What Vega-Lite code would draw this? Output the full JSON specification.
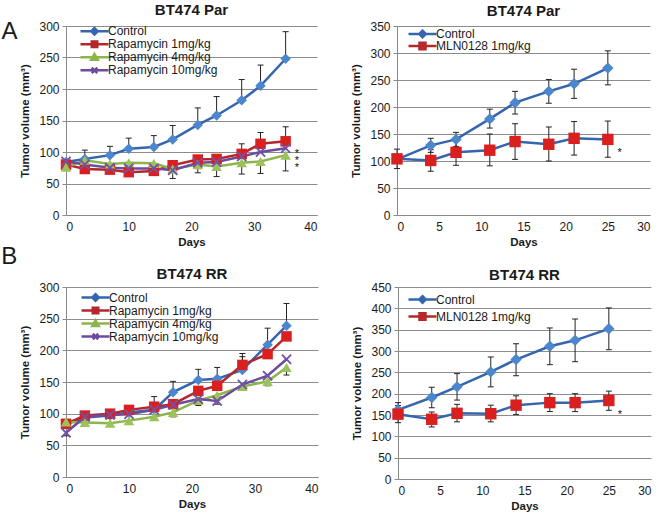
{
  "$schema": "https://vega.github.io/schema/vega-lite/v6.json",
  "background": "white",
  "padding": {"left": 1, "top": 3, "right": 2, "bottom": 2},
  "spacing": -4,
  "config": {
    "font": "Liberation Sans",
    "view": {"stroke": null},
    "axis": {"labelFont": "Liberation Sans", "labelFontSize": 12, "labelColor": "#1a1a1a", "titleFont": "Liberation Sans", "titleFontSize": 11.5, "titleFontWeight": "bold", "titleColor": "#1a1a1a", "domainColor": "#8a8a8a", "tickColor": "#8a8a8a", "gridColor": "#8c8c8c", "gridOpacity": 1},
    "axisX": {"grid": false, "ticks": false, "labelPadding": 6, "titlePadding": 4.5},
    "axisY": {"grid": true, "tickSize": 4, "labelPadding": 3, "titlePadding": 8},
    "title": {"font": "Liberation Sans", "fontSize": 15, "fontWeight": "bold", "color": "#1a1a1a", "frame": "group"},
    "legend": {"labelFont": "Liberation Sans", "labelFontSize": 12, "labelColor": "#1a1a1a", "symbolStrokeWidth": 2.5, "symbolSize": 100, "labelOffset": 16, "padding": 0, "rowPadding": 0}
  },
  "datasets": {
    "aL": [
      {"s": "Control", "day": 0, "v": 84, "lo": 84, "hi": 88},
      {"s": "Control", "day": 3, "v": 89, "lo": 89, "hi": 103},
      {"s": "Control", "day": 7, "v": 95, "lo": 95, "hi": 109},
      {"s": "Control", "day": 10, "v": 105, "lo": 105, "hi": 122},
      {"s": "Control", "day": 14, "v": 108, "lo": 108, "hi": 126},
      {"s": "Control", "day": 17, "v": 120, "lo": 120, "hi": 142},
      {"s": "Control", "day": 21, "v": 143, "lo": 143, "hi": 170},
      {"s": "Control", "day": 24, "v": 158, "lo": 158, "hi": 188},
      {"s": "Control", "day": 28, "v": 182, "lo": 182, "hi": 215},
      {"s": "Control", "day": 31, "v": 205, "lo": 205, "hi": 238},
      {"s": "Control", "day": 35, "v": 248, "lo": 248, "hi": 291},
      {"s": "Rapamycin 1mg/kg", "day": 0, "v": 80, "lo": 80, "hi": 80},
      {"s": "Rapamycin 1mg/kg", "day": 3, "v": 73, "lo": 73, "hi": 73},
      {"s": "Rapamycin 1mg/kg", "day": 7, "v": 72, "lo": 72, "hi": 72},
      {"s": "Rapamycin 1mg/kg", "day": 10, "v": 68, "lo": 68, "hi": 68},
      {"s": "Rapamycin 1mg/kg", "day": 14, "v": 70, "lo": 70, "hi": 70},
      {"s": "Rapamycin 1mg/kg", "day": 17, "v": 79, "lo": 79, "hi": 82},
      {"s": "Rapamycin 1mg/kg", "day": 21, "v": 88, "lo": 88, "hi": 93},
      {"s": "Rapamycin 1mg/kg", "day": 24, "v": 89, "lo": 89, "hi": 92},
      {"s": "Rapamycin 1mg/kg", "day": 28, "v": 97, "lo": 97, "hi": 113},
      {"s": "Rapamycin 1mg/kg", "day": 31, "v": 113, "lo": 113, "hi": 131},
      {"s": "Rapamycin 1mg/kg", "day": 35, "v": 117, "lo": 117, "hi": 140},
      {"s": "Rapamycin 4mg/kg", "day": 0, "v": 76, "lo": 72, "hi": 76},
      {"s": "Rapamycin 4mg/kg", "day": 3, "v": 87, "lo": 87, "hi": 87},
      {"s": "Rapamycin 4mg/kg", "day": 7, "v": 81, "lo": 81, "hi": 81},
      {"s": "Rapamycin 4mg/kg", "day": 10, "v": 83, "lo": 83, "hi": 83},
      {"s": "Rapamycin 4mg/kg", "day": 14, "v": 82, "lo": 82, "hi": 82},
      {"s": "Rapamycin 4mg/kg", "day": 17, "v": 73, "lo": 58, "hi": 73},
      {"s": "Rapamycin 4mg/kg", "day": 21, "v": 80, "lo": 67, "hi": 80},
      {"s": "Rapamycin 4mg/kg", "day": 24, "v": 77, "lo": 61, "hi": 77},
      {"s": "Rapamycin 4mg/kg", "day": 28, "v": 83, "lo": 65, "hi": 83},
      {"s": "Rapamycin 4mg/kg", "day": 31, "v": 85, "lo": 66, "hi": 85},
      {"s": "Rapamycin 4mg/kg", "day": 35, "v": 95, "lo": 70, "hi": 95},
      {"s": "Rapamycin 10mg/kg", "day": 0, "v": 85, "lo": 85, "hi": 85},
      {"s": "Rapamycin 10mg/kg", "day": 3, "v": 80, "lo": 80, "hi": 80},
      {"s": "Rapamycin 10mg/kg", "day": 7, "v": 75, "lo": 75, "hi": 75},
      {"s": "Rapamycin 10mg/kg", "day": 10, "v": 74, "lo": 74, "hi": 74},
      {"s": "Rapamycin 10mg/kg", "day": 14, "v": 74, "lo": 74, "hi": 74},
      {"s": "Rapamycin 10mg/kg", "day": 17, "v": 71, "lo": 71, "hi": 71},
      {"s": "Rapamycin 10mg/kg", "day": 21, "v": 83, "lo": 83, "hi": 83},
      {"s": "Rapamycin 10mg/kg", "day": 24, "v": 84, "lo": 84, "hi": 84},
      {"s": "Rapamycin 10mg/kg", "day": 28, "v": 93, "lo": 93, "hi": 93},
      {"s": "Rapamycin 10mg/kg", "day": 31, "v": 100, "lo": 100, "hi": 100},
      {"s": "Rapamycin 10mg/kg", "day": 35, "v": 106, "lo": 106, "hi": 106}
    ],
    "aR": [
      {"s": "Control", "day": 0, "v": 103, "lo": 103, "hi": 103},
      {"s": "Control", "day": 4, "v": 129, "lo": 116, "hi": 142},
      {"s": "Control", "day": 7, "v": 140, "lo": 127, "hi": 153},
      {"s": "Control", "day": 11, "v": 178, "lo": 161, "hi": 196},
      {"s": "Control", "day": 14, "v": 208, "lo": 187, "hi": 229},
      {"s": "Control", "day": 18, "v": 229, "lo": 207, "hi": 251},
      {"s": "Control", "day": 21, "v": 243, "lo": 216, "hi": 270},
      {"s": "Control", "day": 25, "v": 272, "lo": 241, "hi": 304},
      {"s": "MLN0128 1mg/kg", "day": 0, "v": 104, "lo": 86, "hi": 122},
      {"s": "MLN0128 1mg/kg", "day": 4, "v": 101, "lo": 81, "hi": 121},
      {"s": "MLN0128 1mg/kg", "day": 7, "v": 116, "lo": 92, "hi": 140},
      {"s": "MLN0128 1mg/kg", "day": 11, "v": 120, "lo": 91, "hi": 150},
      {"s": "MLN0128 1mg/kg", "day": 14, "v": 136, "lo": 103, "hi": 169},
      {"s": "MLN0128 1mg/kg", "day": 18, "v": 131, "lo": 100, "hi": 163},
      {"s": "MLN0128 1mg/kg", "day": 21, "v": 142, "lo": 111, "hi": 173},
      {"s": "MLN0128 1mg/kg", "day": 25, "v": 140, "lo": 107, "hi": 174}
    ],
    "bL": [
      {"s": "Control", "day": 0, "v": 83, "lo": 83, "hi": 83},
      {"s": "Control", "day": 3, "v": 94, "lo": 94, "hi": 94},
      {"s": "Control", "day": 7, "v": 97, "lo": 97, "hi": 97},
      {"s": "Control", "day": 10, "v": 102, "lo": 102, "hi": 102},
      {"s": "Control", "day": 14, "v": 106, "lo": 106, "hi": 127},
      {"s": "Control", "day": 17, "v": 134, "lo": 134, "hi": 151},
      {"s": "Control", "day": 21, "v": 153, "lo": 153, "hi": 170},
      {"s": "Control", "day": 24, "v": 155, "lo": 155, "hi": 173},
      {"s": "Control", "day": 28, "v": 169, "lo": 169, "hi": 195},
      {"s": "Control", "day": 32, "v": 209, "lo": 209, "hi": 235},
      {"s": "Control", "day": 35, "v": 239, "lo": 239, "hi": 274},
      {"s": "Rapamycin 1mg/kg", "day": 0, "v": 84, "lo": 84, "hi": 84},
      {"s": "Rapamycin 1mg/kg", "day": 3, "v": 97, "lo": 97, "hi": 97},
      {"s": "Rapamycin 1mg/kg", "day": 7, "v": 100, "lo": 100, "hi": 100},
      {"s": "Rapamycin 1mg/kg", "day": 10, "v": 106, "lo": 106, "hi": 106},
      {"s": "Rapamycin 1mg/kg", "day": 14, "v": 111, "lo": 111, "hi": 111},
      {"s": "Rapamycin 1mg/kg", "day": 17, "v": 115, "lo": 115, "hi": 115},
      {"s": "Rapamycin 1mg/kg", "day": 21, "v": 136, "lo": 136, "hi": 136},
      {"s": "Rapamycin 1mg/kg", "day": 24, "v": 144, "lo": 144, "hi": 144},
      {"s": "Rapamycin 1mg/kg", "day": 28, "v": 177, "lo": 177, "hi": 190},
      {"s": "Rapamycin 1mg/kg", "day": 32, "v": 194, "lo": 194, "hi": 194},
      {"s": "Rapamycin 1mg/kg", "day": 35, "v": 222, "lo": 222, "hi": 222},
      {"s": "Rapamycin 4mg/kg", "day": 0, "v": 87, "lo": 87, "hi": 87},
      {"s": "Rapamycin 4mg/kg", "day": 3, "v": 86, "lo": 86, "hi": 86},
      {"s": "Rapamycin 4mg/kg", "day": 7, "v": 85, "lo": 85, "hi": 85},
      {"s": "Rapamycin 4mg/kg", "day": 10, "v": 89, "lo": 89, "hi": 89},
      {"s": "Rapamycin 4mg/kg", "day": 14, "v": 95, "lo": 90, "hi": 95},
      {"s": "Rapamycin 4mg/kg", "day": 17, "v": 102, "lo": 95, "hi": 102},
      {"s": "Rapamycin 4mg/kg", "day": 21, "v": 121, "lo": 113, "hi": 121},
      {"s": "Rapamycin 4mg/kg", "day": 24, "v": 129, "lo": 129, "hi": 129},
      {"s": "Rapamycin 4mg/kg", "day": 28, "v": 143, "lo": 139, "hi": 143},
      {"s": "Rapamycin 4mg/kg", "day": 32, "v": 151, "lo": 144, "hi": 151},
      {"s": "Rapamycin 4mg/kg", "day": 35, "v": 173, "lo": 161, "hi": 173},
      {"s": "Rapamycin 10mg/kg", "day": 0, "v": 70, "lo": 65, "hi": 70},
      {"s": "Rapamycin 10mg/kg", "day": 3, "v": 95, "lo": 95, "hi": 95},
      {"s": "Rapamycin 10mg/kg", "day": 7, "v": 98, "lo": 98, "hi": 98},
      {"s": "Rapamycin 10mg/kg", "day": 10, "v": 99, "lo": 99, "hi": 99},
      {"s": "Rapamycin 10mg/kg", "day": 14, "v": 106, "lo": 106, "hi": 106},
      {"s": "Rapamycin 10mg/kg", "day": 17, "v": 114, "lo": 114, "hi": 114},
      {"s": "Rapamycin 10mg/kg", "day": 21, "v": 123, "lo": 115, "hi": 123},
      {"s": "Rapamycin 10mg/kg", "day": 24, "v": 120, "lo": 115, "hi": 120},
      {"s": "Rapamycin 10mg/kg", "day": 28, "v": 146, "lo": 146, "hi": 146},
      {"s": "Rapamycin 10mg/kg", "day": 32, "v": 160, "lo": 160, "hi": 160},
      {"s": "Rapamycin 10mg/kg", "day": 35, "v": 186, "lo": 186, "hi": 186}
    ],
    "bR": [
      {"s": "Control", "day": 0, "v": 162, "lo": 162, "hi": 179},
      {"s": "Control", "day": 4, "v": 191, "lo": 167, "hi": 215},
      {"s": "Control", "day": 7, "v": 216, "lo": 185, "hi": 247},
      {"s": "Control", "day": 11, "v": 251, "lo": 216, "hi": 286},
      {"s": "Control", "day": 14, "v": 280, "lo": 242, "hi": 317},
      {"s": "Control", "day": 18, "v": 311, "lo": 268, "hi": 354},
      {"s": "Control", "day": 21, "v": 325, "lo": 275, "hi": 375},
      {"s": "Control", "day": 25, "v": 352, "lo": 303, "hi": 401},
      {"s": "MLN0128 1mg/kg", "day": 0, "v": 152, "lo": 132, "hi": 172},
      {"s": "MLN0128 1mg/kg", "day": 4, "v": 140, "lo": 122, "hi": 157},
      {"s": "MLN0128 1mg/kg", "day": 7, "v": 154, "lo": 134, "hi": 175},
      {"s": "MLN0128 1mg/kg", "day": 11, "v": 153, "lo": 134, "hi": 173},
      {"s": "MLN0128 1mg/kg", "day": 14, "v": 173, "lo": 151, "hi": 195},
      {"s": "MLN0128 1mg/kg", "day": 18, "v": 179, "lo": 158, "hi": 200},
      {"s": "MLN0128 1mg/kg", "day": 21, "v": 179, "lo": 158, "hi": 200},
      {"s": "MLN0128 1mg/kg", "day": 25, "v": 184, "lo": 161, "hi": 206}
    ]
  },
  "vconcat": [
    {
      "hconcat": [
        {
          "width": 251, "height": 189,
          "title": {"text": "BT474 Par", "offset": 1.5},
          "data": {"name": "aL"},
          "encoding": {
            "x": {"field": "day", "type": "quantitative", "scale": {"domain": [0, 40], "nice": false}, "axis": {"values": [0, 10, 20, 30, 40], "title": "Days"}},
            "y": {"field": "v", "type": "quantitative", "scale": {"domain": [0, 300], "nice": false}, "axis": {"values": [0, 50, 100, 150, 200, 250, 300], "title": "Tumor volume (mm³)"}}
          },
          "resolve": {"scale": {"shape": "independent", "fill": "independent", "stroke": "independent"}},
          "layer": [
            {"mark": {"type": "line", "strokeWidth": 2.5}, "encoding": {"color": {"field": "s", "type": "nominal", "scale": {"domain": ["Control", "Rapamycin 1mg/kg", "Rapamycin 4mg/kg", "Rapamycin 10mg/kg"], "range": ["#3465AE", "#B3282B", "#8CB54B", "#6B4C9E"]}, "legend": null}}},
            {"transform": [{"filter": "datum.hi > datum.lo"}], "mark": {"type": "rule", "color": "#222222", "strokeWidth": 1}, "encoding": {"y": {"field": "lo", "type": "quantitative", "title": "Tumor volume (mm³)"}, "y2": {"field": "hi"}}},
            {"transform": [{"filter": "datum.hi > datum.v"}], "mark": {"type": "tick", "orient": "horizontal", "color": "#222222", "size": 6, "thickness": 1, "opacity": 1}, "encoding": {"y": {"field": "hi", "type": "quantitative", "title": "Tumor volume (mm³)"}}},
            {"transform": [{"filter": "datum.lo < datum.v"}], "mark": {"type": "tick", "orient": "horizontal", "color": "#222222", "size": 6, "thickness": 1, "opacity": 1}, "encoding": {"y": {"field": "lo", "type": "quantitative", "title": "Tumor volume (mm³)"}}},
            {"mark": {"type": "point", "filled": true, "size": 110, "opacity": 1}, "encoding": {
              "shape": {"field": "s", "type": "nominal", "scale": {"domain": ["Control", "Rapamycin 1mg/kg", "Rapamycin 4mg/kg", "Rapamycin 10mg/kg"], "range": ["diamond", "square", "triangle-up", "M-1,-0.75L-0.75,-1L0,-0.25L0.75,-1L1,-0.75L0.25,0L1,0.75L0.75,1L0,0.25L-0.75,1L-1,0.75L-0.25,0Z"]}, "legend": null},
              "fill": {"field": "s", "type": "nominal", "scale": {"domain": ["Control", "Rapamycin 1mg/kg", "Rapamycin 4mg/kg", "Rapamycin 10mg/kg"], "range": ["#4C86CC", "#D9201F", "#9CC25A", "#7053A8"]}, "legend": null}
            }},
            {"transform": [{"filter": "datum.day < 0"}], "mark": {"type": "point", "filled": true, "opacity": 1}, "encoding": {
              "shape": {"field": "s", "type": "nominal", "scale": {"domain": ["Control", "Rapamycin 1mg/kg", "Rapamycin 4mg/kg", "Rapamycin 10mg/kg"], "range": ["M-1,0H4.6M1.8,-0.65L2.45,0L1.8,0.65L1.15,0Z", "M-1,0H4.6M1.25,-0.55H2.35V0.55H1.25Z", "M-1,0H4.6M1.8,-0.65L2.45,0.5H1.15Z", "M-1,0H4.6M1.25,-0.55L2.35,0.55M1.25,0.55L2.35,-0.55"]}, "legend": {"title": null, "orient": "none", "legendX": 13, "legendY": -1, "clipHeight": 12.7}},
              "fill": {"field": "s", "type": "nominal", "scale": {"domain": ["Control", "Rapamycin 1mg/kg", "Rapamycin 4mg/kg", "Rapamycin 10mg/kg"], "range": ["#4C86CC", "#D9201F", "#9CC25A", "#7053A8"]}, "legend": {"title": null, "orient": "none", "legendX": 13, "legendY": -1, "clipHeight": 12.7}},
              "stroke": {"field": "s", "type": "nominal", "scale": {"domain": ["Control", "Rapamycin 1mg/kg", "Rapamycin 4mg/kg", "Rapamycin 10mg/kg"], "range": ["#3465AE", "#B3282B", "#8CB54B", "#6B4C9E"]}, "legend": {"title": null, "orient": "none", "legendX": 13, "legendY": -1, "clipHeight": 12.7}}
            }},
            {"data": {"values": [{"day": 36.8, "v": 102}, {"day": 36.8, "v": 91}, {"day": 36.8, "v": 80}]}, "mark": {"type": "text", "text": "*", "fontSize": 11, "baseline": "middle", "dy": 3, "fill": "#111111"}},
            {"data": {"values": [{"letter": "A", "day": -9, "v": 291}]}, "mark": {"type": "text", "fontSize": 24, "baseline": "middle", "fill": "#1a1a1a", "clip": false}, "encoding": {"text": {"field": "letter", "type": "nominal"}}}
          ]
        },
        {
          "width": 253, "height": 189,
          "title": {"text": "BT474 Par", "offset": 1.5},
          "data": {"name": "aR"},
          "encoding": {
            "x": {"field": "day", "type": "quantitative", "scale": {"domain": [0, 30], "nice": false}, "axis": {"values": [0, 5, 10, 15, 20, 25, 30], "title": "Days"}},
            "y": {"field": "v", "type": "quantitative", "scale": {"domain": [0, 350], "nice": false}, "axis": {"values": [0, 50, 100, 150, 200, 250, 300, 350], "title": "Tumor volume (mm³)"}}
          },
          "resolve": {"scale": {"shape": "independent", "fill": "independent", "stroke": "independent"}},
          "layer": [
            {"mark": {"type": "line", "strokeWidth": 2.5}, "encoding": {"color": {"field": "s", "type": "nominal", "scale": {"domain": ["Control", "MLN0128 1mg/kg"], "range": ["#3465AE", "#B3282B"]}, "legend": null}}},
            {"transform": [{"filter": "datum.hi > datum.lo"}], "mark": {"type": "rule", "color": "#222222", "strokeWidth": 1}, "encoding": {"y": {"field": "lo", "type": "quantitative", "title": "Tumor volume (mm³)"}, "y2": {"field": "hi"}}},
            {"transform": [{"filter": "datum.hi > datum.v"}], "mark": {"type": "tick", "orient": "horizontal", "color": "#222222", "size": 6, "thickness": 1, "opacity": 1}, "encoding": {"y": {"field": "hi", "type": "quantitative", "title": "Tumor volume (mm³)"}}},
            {"transform": [{"filter": "datum.lo < datum.v"}], "mark": {"type": "tick", "orient": "horizontal", "color": "#222222", "size": 6, "thickness": 1, "opacity": 1}, "encoding": {"y": {"field": "lo", "type": "quantitative", "title": "Tumor volume (mm³)"}}},
            {"mark": {"type": "point", "filled": true, "size": 130, "opacity": 1}, "encoding": {
              "shape": {"field": "s", "type": "nominal", "scale": {"domain": ["Control", "MLN0128 1mg/kg"], "range": ["diamond", "square"]}, "legend": null},
              "fill": {"field": "s", "type": "nominal", "scale": {"domain": ["Control", "MLN0128 1mg/kg"], "range": ["#4C86CC", "#D9201F"]}, "legend": null}
            }},
            {"transform": [{"filter": "datum.day < 0"}], "mark": {"type": "point", "filled": true, "opacity": 1}, "encoding": {
              "shape": {"field": "s", "type": "nominal", "scale": {"domain": ["Control", "MLN0128 1mg/kg"], "range": ["M-1,0H4.6M1.8,-0.65L2.45,0L1.8,0.65L1.15,0Z", "M-1,0H4.6M1.2,-0.65H2.4V0.65H1.2Z"]}, "legend": {"title": null, "orient": "none", "legendX": 10, "legendY": 2, "clipHeight": 12}},
              "fill": {"field": "s", "type": "nominal", "scale": {"domain": ["Control", "MLN0128 1mg/kg"], "range": ["#4C86CC", "#D9201F"]}, "legend": {"title": null, "orient": "none", "legendX": 10, "legendY": 2, "clipHeight": 12}},
              "stroke": {"field": "s", "type": "nominal", "scale": {"domain": ["Control", "MLN0128 1mg/kg"], "range": ["#3465AE", "#B3282B"]}, "legend": {"title": null, "orient": "none", "legendX": 10, "legendY": 2, "clipHeight": 12}}
            }},
            {"data": {"values": [{"day": 26.4, "v": 120}]}, "mark": {"type": "text", "text": "*", "fontSize": 11, "baseline": "middle", "dy": 3, "fill": "#111111"}}
          ]
        }
      ],
      "spacing": 33
    },
    {
      "hconcat": [
        {
          "width": 252, "height": 190,
          "title": {"text": "BT474 RR", "offset": 1, "dy": 38},
          "data": {"name": "bL"},
          "encoding": {
            "x": {"field": "day", "type": "quantitative", "scale": {"domain": [0, 40], "nice": false}, "axis": {"values": [0, 10, 20, 30, 40], "title": "Days"}},
            "y": {"field": "v", "type": "quantitative", "scale": {"domain": [0, 300], "nice": false}, "axis": {"values": [0, 50, 100, 150, 200, 250, 300], "title": "Tumor volume (mm³)"}}
          },
          "resolve": {"scale": {"shape": "independent", "fill": "independent", "stroke": "independent"}},
          "layer": [
            {"mark": {"type": "line", "strokeWidth": 2.5}, "encoding": {"color": {"field": "s", "type": "nominal", "scale": {"domain": ["Control", "Rapamycin 1mg/kg", "Rapamycin 4mg/kg", "Rapamycin 10mg/kg"], "range": ["#3465AE", "#B3282B", "#8CB54B", "#6B4C9E"]}, "legend": null}}},
            {"transform": [{"filter": "datum.hi > datum.lo"}], "mark": {"type": "rule", "color": "#222222", "strokeWidth": 1}, "encoding": {"y": {"field": "lo", "type": "quantitative", "title": "Tumor volume (mm³)"}, "y2": {"field": "hi"}}},
            {"transform": [{"filter": "datum.hi > datum.v"}], "mark": {"type": "tick", "orient": "horizontal", "color": "#222222", "size": 6, "thickness": 1, "opacity": 1}, "encoding": {"y": {"field": "hi", "type": "quantitative", "title": "Tumor volume (mm³)"}}},
            {"transform": [{"filter": "datum.lo < datum.v"}], "mark": {"type": "tick", "orient": "horizontal", "color": "#222222", "size": 6, "thickness": 1, "opacity": 1}, "encoding": {"y": {"field": "lo", "type": "quantitative", "title": "Tumor volume (mm³)"}}},
            {"mark": {"type": "point", "filled": true, "size": 110, "opacity": 1}, "encoding": {
              "shape": {"field": "s", "type": "nominal", "scale": {"domain": ["Control", "Rapamycin 1mg/kg", "Rapamycin 4mg/kg", "Rapamycin 10mg/kg"], "range": ["diamond", "square", "triangle-up", "M-1,-0.75L-0.75,-1L0,-0.25L0.75,-1L1,-0.75L0.25,0L1,0.75L0.75,1L0,0.25L-0.75,1L-1,0.75L-0.25,0Z"]}, "legend": null},
              "fill": {"field": "s", "type": "nominal", "scale": {"domain": ["Control", "Rapamycin 1mg/kg", "Rapamycin 4mg/kg", "Rapamycin 10mg/kg"], "range": ["#4C86CC", "#D9201F", "#9CC25A", "#7053A8"]}, "legend": null}
            }},
            {"transform": [{"filter": "datum.day < 0"}], "mark": {"type": "point", "filled": true, "opacity": 1}, "encoding": {
              "shape": {"field": "s", "type": "nominal", "scale": {"domain": ["Control", "Rapamycin 1mg/kg", "Rapamycin 4mg/kg", "Rapamycin 10mg/kg"], "range": ["M-1,0H4.6M1.8,-0.65L2.45,0L1.8,0.65L1.15,0Z", "M-1,0H4.6M1.25,-0.55H2.35V0.55H1.25Z", "M-1,0H4.6M1.8,-0.65L2.45,0.5H1.15Z", "M-1,0H4.6M1.25,-0.55L2.35,0.55M1.25,0.55L2.35,-0.55"]}, "legend": {"title": null, "orient": "none", "legendX": 14, "legendY": 4, "clipHeight": 13}},
              "fill": {"field": "s", "type": "nominal", "scale": {"domain": ["Control", "Rapamycin 1mg/kg", "Rapamycin 4mg/kg", "Rapamycin 10mg/kg"], "range": ["#4C86CC", "#D9201F", "#9CC25A", "#7053A8"]}, "legend": {"title": null, "orient": "none", "legendX": 14, "legendY": 4, "clipHeight": 13}},
              "stroke": {"field": "s", "type": "nominal", "scale": {"domain": ["Control", "Rapamycin 1mg/kg", "Rapamycin 4mg/kg", "Rapamycin 10mg/kg"], "range": ["#3465AE", "#B3282B", "#8CB54B", "#6B4C9E"]}, "legend": {"title": null, "orient": "none", "legendX": 14, "legendY": 4, "clipHeight": 13}}
            }},
            {"data": {"values": [{"letter": "B", "day": -9, "v": 348}]}, "mark": {"type": "text", "fontSize": 24, "baseline": "middle", "fill": "#1a1a1a", "clip": false}, "encoding": {"text": {"field": "letter", "type": "nominal"}}}
          ]
        },
        {
          "width": 253, "height": 192,
          "title": {"text": "BT474 RR", "offset": 1, "dy": 3},
          "data": {"name": "bR"},
          "encoding": {
            "x": {"field": "day", "type": "quantitative", "scale": {"domain": [0, 30], "nice": false}, "axis": {"values": [0, 5, 10, 15, 20, 25, 30], "title": "Days"}},
            "y": {"field": "v", "type": "quantitative", "scale": {"domain": [0, 450], "nice": false}, "axis": {"values": [0, 50, 100, 150, 200, 250, 300, 350, 400, 450], "title": "Tumor volume (mm³)"}}
          },
          "resolve": {"scale": {"shape": "independent", "fill": "independent", "stroke": "independent"}},
          "layer": [
            {"mark": {"type": "line", "strokeWidth": 2.5}, "encoding": {"color": {"field": "s", "type": "nominal", "scale": {"domain": ["Control", "MLN0128 1mg/kg"], "range": ["#3465AE", "#B3282B"]}, "legend": null}}},
            {"transform": [{"filter": "datum.hi > datum.lo"}], "mark": {"type": "rule", "color": "#222222", "strokeWidth": 1}, "encoding": {"y": {"field": "lo", "type": "quantitative", "title": "Tumor volume (mm³)"}, "y2": {"field": "hi"}}},
            {"transform": [{"filter": "datum.hi > datum.v"}], "mark": {"type": "tick", "orient": "horizontal", "color": "#222222", "size": 6, "thickness": 1, "opacity": 1}, "encoding": {"y": {"field": "hi", "type": "quantitative", "title": "Tumor volume (mm³)"}}},
            {"transform": [{"filter": "datum.lo < datum.v"}], "mark": {"type": "tick", "orient": "horizontal", "color": "#222222", "size": 6, "thickness": 1, "opacity": 1}, "encoding": {"y": {"field": "lo", "type": "quantitative", "title": "Tumor volume (mm³)"}}},
            {"mark": {"type": "point", "filled": true, "size": 130, "opacity": 1}, "encoding": {
              "shape": {"field": "s", "type": "nominal", "scale": {"domain": ["Control", "MLN0128 1mg/kg"], "range": ["diamond", "square"]}, "legend": null},
              "fill": {"field": "s", "type": "nominal", "scale": {"domain": ["Control", "MLN0128 1mg/kg"], "range": ["#4C86CC", "#D9201F"]}, "legend": null}
            }},
            {"transform": [{"filter": "datum.day < 0"}], "mark": {"type": "point", "filled": true, "opacity": 1}, "encoding": {
              "shape": {"field": "s", "type": "nominal", "scale": {"domain": ["Control", "MLN0128 1mg/kg"], "range": ["M-1,0H4.6M1.8,-0.65L2.45,0L1.8,0.65L1.15,0Z", "M-1,0H4.6M1.2,-0.65H2.4V0.65H1.2Z"]}, "legend": {"title": null, "orient": "none", "legendX": 9, "legendY": 4, "clipHeight": 17}},
              "fill": {"field": "s", "type": "nominal", "scale": {"domain": ["Control", "MLN0128 1mg/kg"], "range": ["#4C86CC", "#D9201F"]}, "legend": {"title": null, "orient": "none", "legendX": 9, "legendY": 4, "clipHeight": 17}},
              "stroke": {"field": "s", "type": "nominal", "scale": {"domain": ["Control", "MLN0128 1mg/kg"], "range": ["#3465AE", "#B3282B"]}, "legend": {"title": null, "orient": "none", "legendX": 9, "legendY": 4, "clipHeight": 17}}
            }},
            {"data": {"values": [{"day": 26.3, "v": 158}]}, "mark": {"type": "text", "text": "*", "fontSize": 11, "baseline": "middle", "dy": 3, "fill": "#111111"}}
          ]
        }
      ],
      "spacing": 33
    }
  ]
}
